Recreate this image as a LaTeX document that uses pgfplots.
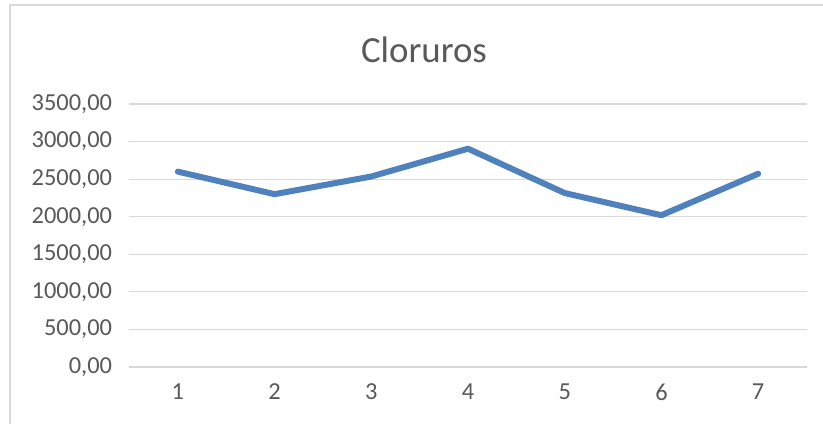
\documentclass[border=0pt]{standalone}
\usepackage{fontspec}
\setmainfont{Carlito}
\usepackage{pgfplots}
\pgfplotsset{compat=1.18}
\definecolor{Serie}{HTML}{4F81BD}
\definecolor{TextGray}{HTML}{595959}
\definecolor{Grid}{HTML}{D9D9D9}
\definecolor{Frame}{HTML}{D9D9D9}

\begin{document}
\begin{tikzpicture}[x=1bp,y=1bp]
\useasboundingbox (-129.5,-56) rectangle (693.5,367);
\draw[Frame,line width=1.2bp] (-119.5,-80) rectangle (720,362);
\node[TextGray,font=\fontsize{37}{41}\selectfont] at (294.5,317) {Cloruros};
\begin{axis}[
  scale only axis,width=677bp,height=263bp,
  xmin=0.5,xmax=7.5,ymin=0,ymax=3500,
  xtick={1,...,7},ytick={0,500,...,3500},
  axis line style={draw=none},
  major tick length=0pt,
  ymajorgrids=true,grid style={Grid,line width=1.2bp},
  tick label style={TextGray,font=\fontsize{24.5}{28}\selectfont},
  /pgf/number format/assume math mode=true,
  yticklabel style={xshift=-14bp,
    /pgf/number format/.cd,fixed,fixed zerofill,precision=2,use comma,1000 sep={}},
  xticklabel style={yshift=-13bp},
  clip=false]
\addplot[Serie,line width=6bp,line cap=round,line join=round] coordinates {
  (1,2600) (2,2300) (3,2535) (4,2905) (5,2315) (6,2020) (7,2572)};
\end{axis}
\end{tikzpicture}
\end{document}
